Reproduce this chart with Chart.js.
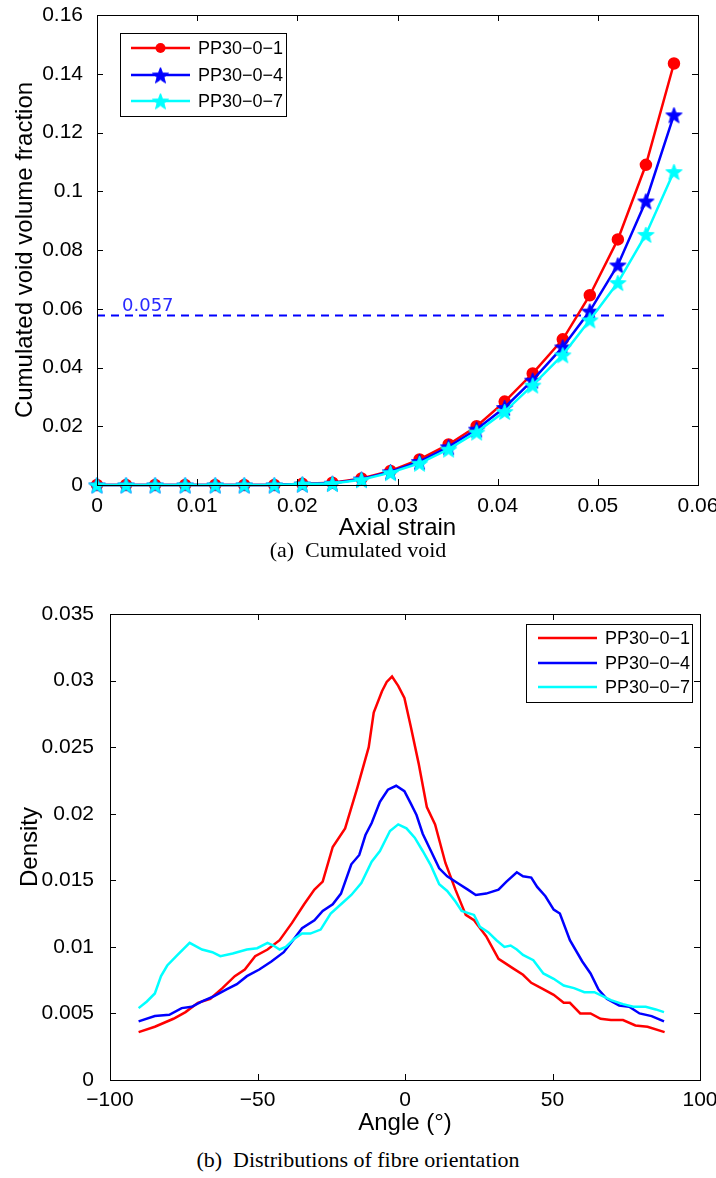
<!DOCTYPE html>
<html>
<head>
<meta charset="utf-8">
<script src="https://cdn.jsdelivr.net/npm/chart.js@4/dist/chart.umd.min.js"></script>
<style>
  body { margin: 0; background: #fff; width: 716px; height: 1178px; position: relative; overflow: hidden; }
  canvas { position: absolute; left: 0; }
  .cap { position: absolute; left: 0; width: 716px; text-align: center; font-family: 'Liberation Serif', serif; font-size: 22px; line-height: 26px; color: #000; white-space: pre; }
</style>
</head>
<body>
<canvas id="voidChart" width="716" height="545" style="top:0"></canvas>
<div class="cap" style="top:537px">(a)  Cumulated void</div>
<canvas id="angleChart" width="716" height="555" style="top:590px"></canvas>
<div class="cap" style="top:1147px">(b)  Distributions of fibre orientation</div>
<script>
// ---- chart (a) data ----
const seriesNames = ['PP30−0−1', 'PP30−0−4', 'PP30−0−7']
const strain = [0, 0.0029, 0.0058, 0.0088, 0.0118, 0.0147, 0.0177, 0.0205, 0.0235, 0.0264, 0.0293,
    0.0322, 0.0351, 0.0379, 0.0407, 0.0435, 0.0465, 0.0492, 0.052, 0.0548, 0.0576]
const void1 = [0, 0, 0, 0, 0, 0, 0, 0.0004, 0.0008, 0.0022, 0.0048, 0.0087, 0.0138, 0.0200, 0.0284,
    0.0380, 0.0496, 0.0646, 0.0836, 0.1090, 0.1435]
const void4 = [0, 0, 0, 0, 0, 0, 0, 0.0003, 0.0006, 0.0020, 0.0045, 0.0080, 0.0130, 0.0190, 0.0264,
    0.0357, 0.0470, 0.0592, 0.0749, 0.0967, 0.1260]
const void7 = [0, 0, 0, 0, 0, 0, 0, 0.0003, 0.0005, 0.0018, 0.0042, 0.0074, 0.0122, 0.0180, 0.0250,
    0.0340, 0.0443, 0.0562, 0.0689, 0.0853, 0.1067]
const thresholdY = 0.0577
const thresholdEnd = 0.0566
const thresholdLabel = '0.057'

// ---- chart (b) data ----
const angle1 = [-90.3, -84.8, -78.5, -74.4, -70.2, -66, -61.9, -57.7, -54.3, -50.8, -46.6, -42.5, -38.3,
    -34.2, -30.7, -27.9, -24.5, -20.3, -16.1, -12.3, -10.6, -7.8, -6.2, -4.4, -2.3, -0.2, 1.9, 4.6, 7.4,
    10.2, 13.7, 17.1, 20.6, 23.4, 27.5, 31.7, 33.8, 36.5, 40, 42.8, 46.2, 50.4, 53.8, 55.9, 59.4, 62.9,
    66.3, 69.8, 73.9, 78.1, 82.2, 88]
const density1 = [0.0036, 0.0040, 0.0046, 0.0051, 0.0058, 0.0061, 0.0069, 0.0078, 0.0083, 0.0093, 0.0098,
    0.0105, 0.0118, 0.0132, 0.0143, 0.0149, 0.0175, 0.0189, 0.0220, 0.0250, 0.0276, 0.0292, 0.0299, 0.0303,
    0.0296, 0.0287, 0.0266, 0.0238, 0.0205, 0.0192, 0.0163, 0.0143, 0.0124, 0.0120, 0.0108, 0.0091, 0.0088,
    0.0084, 0.0079, 0.0073, 0.0069, 0.0064, 0.0058, 0.0058, 0.0050, 0.0050, 0.0046, 0.0045, 0.0045, 0.0041,
    0.0040, 0.0036]
const angle4 = [-90.3, -84.8, -79.9, -75.7, -72.3, -68.8, -64.7, -60.5, -57, -53.6, -49.4, -45.3, -41.1,
    -38.3, -34.9, -30.7, -27.9, -24.5, -21.7, -18.2, -15.5, -13.4, -11.3, -8.5, -5.8, -3, -0.2, 1.9, 3.9,
    6, 8.8, 11.6, 14.3, 17.8, 21.3, 24, 27.5, 31.7, 34.4, 37.9, 40, 42.8, 44.8, 47.6, 50.4, 52.5, 55.9,
    60.1, 62.9, 65.6, 68.4, 72.6, 76, 79.5, 83.6, 87.8]
const density4 = [0.0044, 0.0048, 0.0049, 0.0054, 0.0055, 0.0059, 0.0063, 0.0068, 0.0072, 0.0078, 0.0083,
    0.0089, 0.0096, 0.0104, 0.0114, 0.0120, 0.0127, 0.0132, 0.0140, 0.0162, 0.0169, 0.0184, 0.0193, 0.0209,
    0.0218, 0.0221, 0.0217, 0.0208, 0.0199, 0.0185, 0.0172, 0.0159, 0.0153, 0.0148, 0.0143, 0.0139, 0.0140,
    0.0143, 0.0149, 0.0156, 0.0153, 0.0152, 0.0145, 0.0138, 0.0128, 0.0125, 0.0105, 0.0089, 0.0080, 0.0068,
    0.0061, 0.0056, 0.0055, 0.0050, 0.0048, 0.0044]
const angle7 = [-90.3, -87.5, -84.8, -82.7, -80.6, -77.1, -73, -68.8, -65.3, -62.6, -58.4, -53.6, -50.1,
    -46.6, -44.6, -42.5, -40.4, -37.6, -34.9, -32.1, -28.6, -25.2, -21.7, -18.2, -14.8, -11.3, -8.5, -5.1,
    -2.3, 0.5, 3.3, 6, 8.8, 11.6, 14.3, 17.1, 19.2, 23.4, 25.4, 28.2, 31, 33.7, 35.8, 37.9, 40, 43.5, 46.9,
    50.4, 53.8, 57.3, 60.8, 64.2, 67, 69.8, 73.9, 77.4, 81.6, 85, 87.8]
const density7 = [0.0054, 0.0059, 0.0065, 0.0078, 0.0086, 0.0094, 0.0103, 0.0098, 0.0096, 0.0093, 0.0095,
    0.0098, 0.0099, 0.0103, 0.0101, 0.0098, 0.0100, 0.0106, 0.0110, 0.0110, 0.0113, 0.0125, 0.0132, 0.0139,
    0.0148, 0.0164, 0.0172, 0.0187, 0.0192, 0.0189, 0.0182, 0.0172, 0.0161, 0.0147, 0.0142, 0.0134, 0.0127,
    0.0124, 0.0115, 0.0111, 0.0105, 0.0100, 0.0101, 0.0098, 0.0094, 0.0090, 0.0080, 0.0076, 0.0071, 0.0069,
    0.0066, 0.0066, 0.0063, 0.0060, 0.0057, 0.0055, 0.0055, 0.0053, 0.0051]

const pairs = (xs, ys) => xs.map((x, i) => ({ x: x, y: ys[i] }))
const fmtNum = v => { const s = String(+(+v).toFixed(4)); return s.replace('-', '−') }

Chart.defaults.font.family = "'Liberation Sans', Arial, sans-serif"
Chart.defaults.color = '#000'

function makeStar(color, r) {
    const c = document.createElement('canvas')
    const s = Math.ceil(r * 2 + 2)
    c.width = s; c.height = s
    const g = c.getContext('2d')
    g.beginPath()
    for (let k = 0; k < 10; k++) {
        const rad = k % 2 ? r * 0.42 : r
        const a = -Math.PI / 2 + k * Math.PI / 5
        const px = s / 2 + rad * Math.cos(a), py = s / 2 + 1 + rad * Math.sin(a)
        if (k === 0) g.moveTo(px, py); else g.lineTo(px, py)
    }
    g.closePath()
    g.fillStyle = color; g.fill()
    g.strokeStyle = color; g.lineWidth = 1; g.stroke()
    return c
}

// box with inward ticks on all four sides, like matlab
const boxPlugin = {
    id: 'box',
    afterDatasetsDraw(chart) {
        const { ctx, chartArea: a, scales } = chart
        ctx.save()
        ctx.strokeStyle = '#000'
        ctx.lineWidth = 1
        ctx.strokeRect(Math.round(a.left) + 0.5, Math.round(a.top) + 0.5, Math.round(a.right - a.left), Math.round(a.bottom - a.top))
        const len = 6
        ctx.beginPath()
        scales.x.ticks.forEach(t => {
            const px = Math.round(scales.x.getPixelForValue(t.value)) + 0.5
            ctx.moveTo(px, a.bottom); ctx.lineTo(px, a.bottom - len)
            ctx.moveTo(px, a.top); ctx.lineTo(px, a.top + len)
        })
        scales.y.ticks.forEach(t => {
            const py = Math.round(scales.y.getPixelForValue(t.value)) + 0.5
            ctx.moveTo(a.left, py); ctx.lineTo(a.left + len, py)
            ctx.moveTo(a.right, py); ctx.lineTo(a.right - len, py)
        })
        ctx.stroke()
        ctx.restore()
    }
}

// matlab style legend box: line sample with marker, then label
const boxLegend = {
    id: 'boxLegend',
    afterDraw(chart, args, opts) {
        if (!opts.box) return
        const ctx = chart.ctx
        const b = opts.box
        ctx.save()
        ctx.fillStyle = '#fff'
        ctx.fillRect(b.x, b.y, b.w, b.h)
        ctx.strokeStyle = '#000'; ctx.lineWidth = 1
        ctx.strokeRect(b.x + 0.5, b.y + 0.5, b.w, b.h)
        ctx.font = opts.font
        ctx.textBaseline = 'middle'
        chart.data.datasets.forEach((ds, i) => {
            if (ds.noLegend) return
            const y = b.y + opts.rows[i]
            ctx.strokeStyle = ds.borderColor
            ctx.lineWidth = ds.borderWidth
            ctx.beginPath()
            ctx.moveTo(b.x + opts.lineFrom, y); ctx.lineTo(b.x + opts.lineTo, y)
            ctx.stroke()
            const mx = b.x + (opts.lineFrom + opts.lineTo) / 2
            if (ds.pointRadius > 0) {
                if (ds.pointStyle === 'circle') {
                    ctx.fillStyle = ds.pointBackgroundColor
                    ctx.beginPath(); ctx.arc(mx, y, ds.pointRadius, 0, Math.PI * 2); ctx.fill()
                } else if (ds.pointStyle instanceof HTMLCanvasElement) {
                    const im = ds.pointStyle
                    ctx.drawImage(im, mx - im.width / 2, y - im.height / 2)
                }
            }
            ctx.fillStyle = '#000'
            ctx.fillText(ds.label, b.x + opts.textX, y + 1)
        })
        ctx.restore()
    }
}

const thresholdText = {
    id: 'thresholdText',
    afterDatasetsDraw(chart, args, opts) {
        if (!opts.text) return
        const { ctx, scales } = chart
        ctx.save()
        ctx.font = "18px 'DejaVu Sans'"
        ctx.fillStyle = '#2a2aff'
        ctx.textBaseline = 'alphabetic'
        ctx.fillText(opts.text, scales.x.getPixelForValue(opts.x), scales.y.getPixelForValue(opts.y) - 5)
        ctx.restore()
    }
}

function fixedAxis(size) {
    return function (scale) {
        if (scale.isHorizontal()) scale.height = size; else scale.width = size
        scale.paddingLeft = 0; scale.paddingRight = 0; scale.paddingTop = 0; scale.paddingBottom = 0
    }
}

// ---------- (a) cumulated void ----------
const starBlue = makeStar('#0000ff', 8.5)
const starCyan = makeStar('#00ffff', 8.5)

new Chart(document.getElementById('voidChart'), {
    type: 'line',
    data: {
        datasets: [
            { label: seriesNames[0], data: pairs(strain, void1), borderColor: '#ff0000', borderWidth: 2.5,
              pointStyle: 'circle', pointRadius: 5, pointBackgroundColor: '#ff0000', pointBorderColor: '#ff0000', order: 3, clip: false },
            { label: seriesNames[1], data: pairs(strain, void4), borderColor: '#0000ff', borderWidth: 2.5,
              pointStyle: starBlue, pointRadius: 8, order: 2, clip: false },
            { label: seriesNames[2], data: pairs(strain, void7), borderColor: '#00ffff', borderWidth: 2.5,
              pointStyle: starCyan, pointRadius: 8, order: 1, clip: false },
            { label: 'threshold', data: [{ x: 0, y: thresholdY }, { x: thresholdEnd, y: thresholdY }],
              borderColor: '#0000ff', borderWidth: 2, borderDash: [8, 6], pointRadius: 0, order: 4, noLegend: true }
        ]
    },
    options: {
        responsive: false,
        animation: false,
        devicePixelRatio: 1,
        layout: { autoPadding: false, padding: { top: 15, right: 18, left: 0, bottom: 0 } },
        scales: {
            x: {
                type: 'linear', min: 0, max: 0.06,
                ticks: { stepSize: 0.01, padding: 1, font: { size: 21 }, callback: fmtNum, maxRotation: 0, autoSkip: false },
                grid: { display: false }, border: { display: false },
                title: { display: true, text: 'Axial strain', font: { size: 24 }, padding: { top: 0, bottom: 2.6 } },
                afterFit: fixedAxis(60)
            },
            y: {
                min: 0, max: 0.16,
                ticks: { stepSize: 0.02, padding: 6, font: { size: 21 }, callback: fmtNum, autoSkip: false },
                grid: { display: false }, border: { display: false },
                title: { display: true, text: 'Cumulated void volume fraction', font: { size: 24 }, padding: { top: 10.6, bottom: 0 } },
                afterFit: fixedAxis(97)
            }
        },
        plugins: {
            legend: { display: false },
            tooltip: { enabled: false },
            thresholdText: { text: thresholdLabel, x: 0.0025, y: thresholdY },
            boxLegend: {
                box: { x: 120, y: 33, w: 166, h: 83 },
                rows: [15, 42, 68], lineFrom: 11, lineTo: 70, textX: 78,
                font: "18px 'Liberation Sans'"
            }
        }
    },
    plugins: [boxPlugin, boxLegend, thresholdText]
})

// ---------- (b) fibre orientation ----------
new Chart(document.getElementById('angleChart'), {
    type: 'line',
    data: {
        datasets: [
            { label: seriesNames[0], data: pairs(angle1, density1), borderColor: '#ff0000', borderWidth: 2.5, pointRadius: 0, order: 3 },
            { label: seriesNames[1], data: pairs(angle4, density4), borderColor: '#0000ff', borderWidth: 2.5, pointRadius: 0, order: 2 },
            { label: seriesNames[2], data: pairs(angle7, density7), borderColor: '#00ffff', borderWidth: 2.5, pointRadius: 0, order: 1 }
        ]
    },
    options: {
        responsive: false,
        animation: false,
        devicePixelRatio: 1,
        layout: { autoPadding: false, padding: { top: 24, right: 16, left: 0, bottom: 0 } },
        scales: {
            x: {
                type: 'linear', min: -100, max: 100,
                ticks: { stepSize: 50, padding: 0, font: { size: 21 }, callback: fmtNum, maxRotation: 0, autoSkip: false },
                grid: { display: false }, border: { display: false },
                title: { display: true, text: 'Angle (°)', font: { size: 24 }, padding: { top: 0, bottom: 7.6 } },
                afterFit: fixedAxis(65)
            },
            y: {
                min: 0, max: 0.035,
                ticks: { stepSize: 0.005, padding: 8, font: { size: 21 }, callback: fmtNum, autoSkip: false },
                grid: { display: false }, border: { display: false },
                title: { display: true, text: 'Density', font: { size: 24 }, padding: { top: 15.6, bottom: 0 } },
                afterFit: fixedAxis(110)
            }
        },
        plugins: {
            legend: { display: false },
            tooltip: { enabled: false },
            boxLegend: {
                box: { x: 526, y: 34, w: 166, h: 78 },
                rows: [14, 39, 63], lineFrom: 12, lineTo: 71, textX: 79,
                font: "18px 'Liberation Sans'"
            }
        }
    },
    plugins: [boxPlugin, boxLegend]
})
</script>
</body>
</html>
